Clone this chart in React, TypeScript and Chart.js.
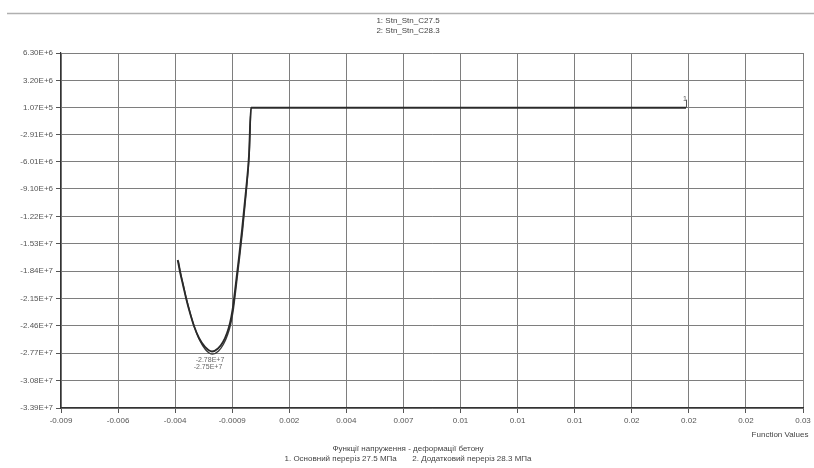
import React, { useEffect, useRef } from "react";
import { Chart, registerables } from "chart.js";

Chart.register(...registerables);

const titleLines = ["1: Stn_Stn_C27.5", "2: Stn_Stn_C28.3"];
const footerLines = [
  "Функції напруження - деформації бетону",
  "1. Основний переріз 27.5 МПа       2. Додатковий переріз 28.3 МПа",
];
const xAxisTitle = "Function Values";

const xTickValues = [-0.009, -0.006, -0.003, 0, 0.003, 0.006, 0.009, 0.012, 0.015, 0.018, 0.021, 0.024, 0.027, 0.03];
const xTickLabels = ["-0.009", "-0.006", "-0.004", "-0.0009", "0.002", "0.004", "0.007", "0.01", "0.01", "0.01", "0.02", "0.02", "0.02", "0.03"];

const yTickValues = [6.3e6, 3.2e6, 1.07e5, -2.91e6, -6.01e6, -9.1e6, -1.22e7, -1.53e7, -1.84e7, -2.15e7, -2.46e7, -2.77e7, -3.08e7, -3.39e7];
const yTickLabels = ["6.30E+6", "3.20E+6", "1.07E+5", "-2.91E+6", "-6.01E+6", "-9.10E+6", "-1.22E+7", "-1.53E+7", "-1.84E+7", "-2.15E+7", "-2.46E+7", "-2.77E+7", "-3.08E+7", "-3.39E+7"];

// Series 1: Stn_Stn_C27.5
const s1X = [-0.002866, -0.002745, -0.002588, -0.00243, -0.00222, -0.002009, -0.001747, -0.001431, -0.001063, -0.000748, -0.000485, -0.000275, -0.000117, 0.000014, 0.000119, 0.000224, 0.000356, 0.000514, 0.000724, 0.000881, 0.000987, 0.02385];
const s1Y = [-1.714e7, -1.85e7, -1.997e7, -2.144e7, -2.314e7, -2.461e7, -2.597e7, -2.699e7, -2.75e7, -2.716e7, -2.642e7, -2.54e7, -2.427e7, -2.28e7, -2.11e7, -1.918e7, -1.68e7, -1.374e7, -9.21e6, -5.25e6, 1.07e5, 1.07e5];

// Series 2: Stn_Stn_C28.3
const s2X = [-0.002836, -0.002715, -0.002558, -0.0024, -0.00219, -0.001979, -0.001717, -0.001401, -0.001033, -0.000718, -0.000455, -0.000245, -0.000087, 0.000044, 0.000149, 0.000254, 0.000386, 0.000544, 0.000744, 0.000891, 0.000992, 0.02385];
const s2Y = [-1.72e7, -1.86e7, -2.01e7, -2.16e7, -2.33e7, -2.48e7, -2.62e7, -2.73e7, -2.78e7, -2.745e7, -2.665e7, -2.56e7, -2.445e7, -2.295e7, -2.12e7, -1.925e7, -1.685e7, -1.378e7, -9.23e6, -5.26e6, 1.07e5, 1.07e5];

const minLabels = ["-2.78E+7", "-2.75E+7"];

function toPoints(xs: number[], ys: number[]) {
  return xs.map((x, i) => ({ x, y: ys[i] }));
}

const textPlugin = {
  id: "textPlugin",
  afterDraw(chart: any) {
    const ctx = chart.ctx;
    ctx.save();
    ctx.strokeStyle = "#b0b0b0";
    ctx.lineWidth = 1.5;
    ctx.beginPath();
    ctx.moveTo(7, 13.5);
    ctx.lineTo(814, 13.5);
    ctx.stroke();

    ctx.fillStyle = "#444";
    ctx.font = "8px 'Liberation Sans', Arial, sans-serif";
    ctx.textAlign = "center";
    ctx.textBaseline = "middle";
    ctx.fillText(titleLines[0], 408, 21);
    ctx.fillText(titleLines[1], 408, 31);
    ctx.fillText(footerLines[0], 408, 449);
    ctx.fillText(footerLines[1], 408, 459);
    ctx.fillText(xAxisTitle, 780, 435);

    const xs = chart.scales.x;
    const ys = chart.scales.y;
    const mx = xs.getPixelForValue(s1X[8]);
    const my = ys.getPixelForValue(s2Y[8]);
    ctx.fillStyle = "#666";
    ctx.font = "7px 'Liberation Sans', Arial, sans-serif";
    ctx.fillText(minLabels[0], mx - 2, my + 6);
    ctx.fillText(minLabels[1], mx - 4, my + 13);

    const ex = xs.getPixelForValue(s1X[s1X.length - 1]);
    const ey = ys.getPixelForValue(s1Y[s1Y.length - 1]);
    ctx.strokeStyle = "#555";
    ctx.lineWidth = 1;
    ctx.beginPath();
    ctx.moveTo(ex + 0.5, ey);
    ctx.lineTo(ex + 0.5, ey - 8);
    ctx.stroke();
    ctx.fillStyle = "#555";
    ctx.font = "7px 'Liberation Sans', Arial, sans-serif";
    ctx.fillText("1", ex - 1, ey - 9);
    ctx.restore();
  },
};

export default function App() {
  const ref = useRef<HTMLCanvasElement | null>(null);
  useEffect(() => {
    if (!ref.current) return;
    const chart = new Chart(ref.current, {
      type: "scatter",
      data: {
        datasets: [
          {
            label: titleLines[0],
            data: toPoints(s1X, s1Y),
            showLine: true,
            borderColor: "#2a2a2a",
            borderWidth: 1.8,
            pointRadius: 0,
            cubicInterpolationMode: "monotone",
          },
          {
            label: titleLines[1],
            data: toPoints(s2X, s2Y),
            showLine: true,
            borderColor: "#3a3a3a",
            borderWidth: 1.4,
            pointRadius: 0,
            cubicInterpolationMode: "monotone",
          },
        ],
      },
      options: {
        animation: false,
        responsive: false,
        devicePixelRatio: 1,
        layout: { padding: { top: 53, left: 0, right: 11, bottom: 0 } },
        plugins: { legend: { display: false }, tooltip: { enabled: false }, title: { display: false } },
        scales: {
          x: {
            type: "linear",
            min: -0.009,
            max: 0.03,
            afterBuildTicks: (scale: any) => {
              scale.ticks = xTickValues.map((v) => ({ value: v }));
            },
            afterFit: (scale: any) => {
              scale.height = 60;
            },
            ticks: {
              autoSkip: false,
              maxRotation: 0,
              padding: 3,
              color: "#555",
              font: { family: "'Liberation Sans', Arial, sans-serif", size: 8 },
              callback: (_v: any, i: number) => xTickLabels[i],
            },
            grid: { color: "#7e7e7e", lineWidth: 1, tickLength: 5, tickColor: "#555" },
            border: { color: "#333", width: 1.2 },
          },
          y: {
            type: "linear",
            min: -3.39e7,
            max: 6.3e6,
            afterBuildTicks: (scale: any) => {
              scale.ticks = yTickValues.map((v) => ({ value: v }));
            },
            afterFit: (scale: any) => {
              scale.width = 61;
            },
            ticks: {
              autoSkip: false,
              padding: 3,
              color: "#555",
              font: { family: "'Liberation Sans', Arial, sans-serif", size: 8 },
              callback: (_v: any, i: number) => yTickLabels[i],
            },
            grid: { color: "#7e7e7e", lineWidth: 1, tickLength: 5, tickColor: "#555" },
            border: { color: "#333", width: 1.2 },
          },
        },
      },
      plugins: [textPlugin],
    } as any);
    return () => chart.destroy();
  }, []);
  return (
    <div style={{ position: "fixed", left: 0, top: 0, width: 814, height: 468, background: "#fff" }}>
      <canvas ref={ref} width={814} height={468} style={{ width: 814, height: 468, display: "block" }} />
    </div>
  );
}
